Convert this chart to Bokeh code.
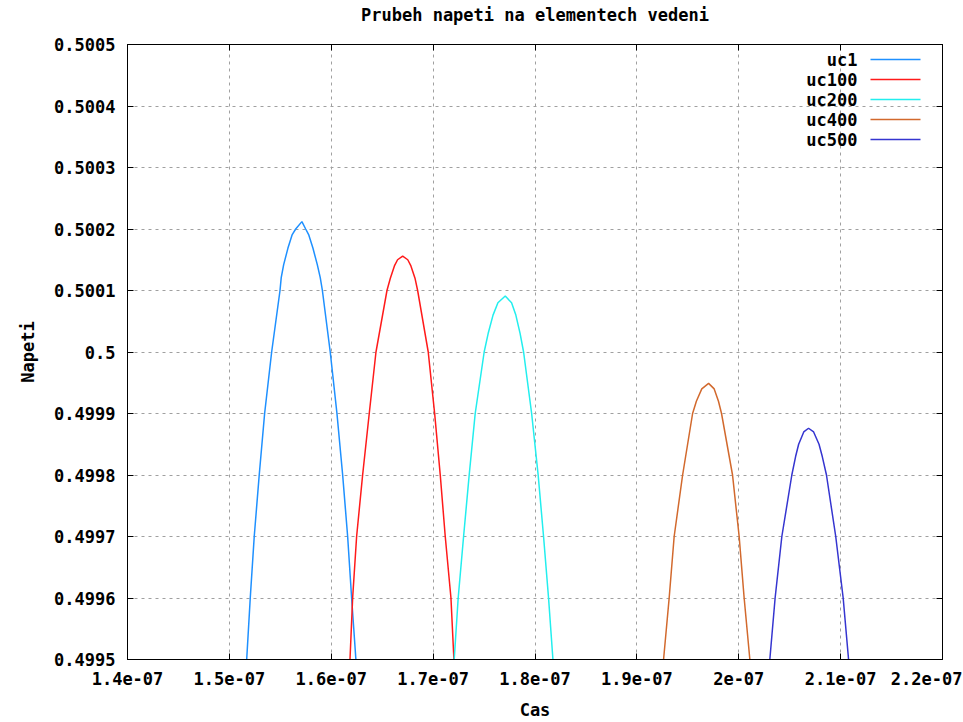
from bokeh.plotting import figure
from bokeh.embed import file_html
from bokeh.resources import INLINE
from bokeh.models import (Range1d, LinearAxis, FixedTicker, CustomJSTickFormatter,
                          Label, Arrow)

# ---------------- data ----------------
series_names = ["uc1", "uc100", "uc200", "uc400", "uc500"]

uc1_t = [1.5170e-7, 1.5205e-7, 1.5244e-7, 1.5293e-7, 1.5346e-7, 1.5415e-7, 1.5497e-7,
         1.5509e-7, 1.5533e-7, 1.5575e-7, 1.5617e-7, 1.5651e-7, 1.5712e-7, 1.5749e-7,
         1.5778e-7, 1.5820e-7, 1.5863e-7, 1.5892e-7, 1.5913e-7, 1.5990e-7, 1.6056e-7,
         1.6112e-7, 1.6161e-7, 1.6200e-7, 1.6242e-7]
uc1_v = [0.4995, 0.4996, 0.4997, 0.4998, 0.4999, 0.5, 0.5001,
         0.500121, 0.500142, 0.500169, 0.500191, 0.5002, 0.500212, 0.5002,
         0.500191, 0.500169, 0.500142, 0.500121, 0.5001, 0.5, 0.4999,
         0.4998, 0.4997, 0.4996, 0.4995]

uc100_t = [1.6184e-7, 1.6210e-7, 1.6249e-7, 1.6308e-7, 1.6373e-7, 1.6439e-7, 1.6547e-7,
           1.6580e-7, 1.6620e-7, 1.6651e-7, 1.6701e-7, 1.6751e-7, 1.6782e-7, 1.6822e-7,
           1.6848e-7, 1.6952e-7, 1.7015e-7, 1.7070e-7, 1.7119e-7, 1.7175e-7, 1.7204e-7]
uc100_v = [0.4995, 0.4996, 0.4997, 0.4998, 0.4999, 0.5, 0.5001,
           0.50012, 0.50014, 0.50015, 0.500156, 0.50015, 0.50014, 0.50012,
           0.5001, 0.5, 0.4999, 0.4998, 0.4997, 0.4996, 0.4995]

uc200_t = [1.7207e-7, 1.7246e-7, 1.7299e-7, 1.7354e-7, 1.7413e-7, 1.7501e-7, 1.7540e-7,
           1.7588e-7, 1.7636e-7, 1.7708e-7, 1.7770e-7, 1.7812e-7, 1.7854e-7, 1.7888e-7,
           1.7967e-7, 1.8031e-7, 1.8084e-7, 1.8133e-7, 1.8176e-7]
uc200_v = [0.4995, 0.4996, 0.4997, 0.4998, 0.4999, 0.5, 0.50003,
           0.50006, 0.50008, 0.500091, 0.50008, 0.50006, 0.50003, 0.5,
           0.4999, 0.4998, 0.4997, 0.4996, 0.4995]

uc400_t = [1.9262e-7, 1.9317e-7, 1.9366e-7, 1.9449e-7, 1.9547e-7, 1.9584e-7, 1.9637e-7,
           1.9704e-7, 1.9759e-7, 1.9801e-7, 1.9831e-7, 1.9939e-7, 2.0004e-7, 2.0053e-7,
           2.0109e-7]
uc400_v = [0.4995, 0.4996, 0.4997, 0.4998, 0.4999, 0.49992, 0.49994,
           0.499949, 0.49994, 0.49992, 0.4999, 0.4998, 0.4997, 0.4996,
           0.4995]

uc500_t = [2.0305e-7, 2.0357e-7, 2.0423e-7, 2.0521e-7, 2.0558e-7, 2.0588e-7, 2.0638e-7,
           2.0685e-7, 2.0735e-7, 2.0788e-7, 2.0820e-7, 2.0861e-7, 2.0952e-7, 2.1025e-7,
           2.1078e-7]
uc500_v = [0.4995, 0.4996, 0.4997, 0.4998, 0.49983, 0.49985, 0.49987,
           0.499876, 0.49987, 0.49985, 0.49983, 0.4998, 0.4997, 0.4996,
           0.4995]

x_ticks = [1.4e-07, 1.5e-07, 1.6e-07, 1.7e-07, 1.8e-07, 1.9e-07, 2.0e-07, 2.1e-07, 2.2e-07]
x_tick_labels = ["1.4e-07", "1.5e-07", "1.6e-07", "1.7e-07", "1.8e-07", "1.9e-07",
                 "2e-07", "2.1e-07", "2.2e-07"]
y_ticks = [0.4995, 0.4996, 0.4997, 0.4998, 0.4999, 0.5, 0.5001, 0.5002, 0.5003, 0.5004, 0.5005]
y_tick_labels = ["0.4995", "0.4996", "0.4997", "0.4998", "0.4999", "0.5", "0.5001",
                 "0.5002", "0.5003", "0.5004", "0.5005"]

title_text = "Prubeh napeti na elementech vedeni"
x_label = "Cas"
y_label = "Napeti"

# ---------------- style ----------------
colors = ["#1e90ff", "#ff1a1a", "#22eeee", "#d2692d", "#3535d0"]
FONT = "DejaVu Sans Mono"
FS = "17px"
FW, FH = 815, 615

series_t = [uc1_t, uc100_t, uc200_t, uc400_t, uc500_t]
series_v = [uc1_v, uc100_v, uc200_v, uc400_v, uc500_v]

p = figure(frame_width=FW, frame_height=FH, output_backend="svg", toolbar_location=None,
           title=None,
           x_range=Range1d(x_ticks[0], x_ticks[-1]), y_range=Range1d(y_ticks[0], y_ticks[-1]),
           min_border_left=127, min_border_top=44, min_border_right=20, min_border_bottom=60)
p.background_fill_color = "white"
p.border_fill_color = "white"
p.outline_line_color = "black"
p.outline_line_width = 1

fmt_code = """
let best = 0, bd = Infinity;
for (let i = 0; i < tv.length; i++) {
  const d = Math.abs(tv[i] - tick);
  if (d < bd) { bd = d; best = i; }
}
return tl[best];
"""

xax = p.xaxis[0]
xax.ticker = FixedTicker(ticks=x_ticks)
xax.formatter = CustomJSTickFormatter(args=dict(tv=x_ticks, tl=x_tick_labels), code=fmt_code)
yax = p.yaxis[0]
yax.ticker = FixedTicker(ticks=y_ticks)
yax.formatter = CustomJSTickFormatter(args=dict(tv=y_ticks, tl=y_tick_labels), code=fmt_code)

for ax in (xax, yax):
    ax.axis_line_color = "black"
    ax.major_tick_in = 6
    ax.major_tick_out = 0
    ax.major_tick_line_color = "black"
    ax.minor_tick_line_color = None
    ax.major_label_text_font = FONT
    ax.major_label_text_font_size = FS
    ax.major_label_text_font_style = "bold"
    ax.major_label_text_color = "black"
    ax.axis_label_text_font = FONT
    ax.axis_label_text_font_size = FS
    ax.axis_label_text_font_style = "bold"
    ax.axis_label_text_color = "black"

xax.axis_label = x_label
xax.major_label_standoff = 12
xax.axis_label_standoff = 12
yax.axis_label = y_label
yax.major_label_standoff = 12
yax.axis_label_standoff = 13

# mirror ticks on top and right; the top one carries the chart title
for loc in ("above", "right"):
    ax = LinearAxis(ticker=FixedTicker(ticks=(x_ticks if loc == "above" else y_ticks)),
                    formatter=CustomJSTickFormatter(code="return ''"))
    ax.major_tick_in = 6
    ax.major_tick_out = 0
    ax.minor_tick_line_color = None
    ax.major_label_standoff = 0
    ax.major_label_text_font_size = "1px"
    ax.axis_line_color = "black"
    if loc == "above":
        ax.axis_label = title_text
        ax.axis_label_text_font = FONT
        ax.axis_label_text_font_size = FS
        ax.axis_label_text_font_style = "bold"
        ax.axis_label_text_color = "black"
        ax.axis_label_standoff = 20
    p.add_layout(ax, loc)

for g in (p.xgrid[0], p.ygrid[0]):
    g.grid_line_color = "#a0a0a0"
    g.grid_line_dash = "3 4"
    g.grid_line_width = 1

for t, v, c in zip(series_t, series_v, colors):
    p.line(t, v, line_color=c, line_width=1.5)

x0, x1 = x_ticks[0], x_ticks[-1]
y0, y1 = y_ticks[0], y_ticks[-1]

# legend (gnuplot style: label, then sample line)
xs = (x1 - x0) / FW
ys = (y1 - y0) / FH
for i, (name, c) in enumerate(zip(series_names, colors)):
    yy = y1 - (15 + 20 * i) * ys
    p.add_layout(Label(x=x1 - 85 * xs, y=yy, text=name, text_align="right",
                       text_baseline="middle", text_font=FONT, text_font_size=FS,
                       text_font_style="bold", text_color="black"))
    p.add_layout(Arrow(end=None, x_start=x1 - 72 * xs, y_start=yy, x_end=x1 - 22 * xs, y_end=yy,
                       line_color=c, line_width=1.5))

open("out.html", "w").write(file_html(p, INLINE))
